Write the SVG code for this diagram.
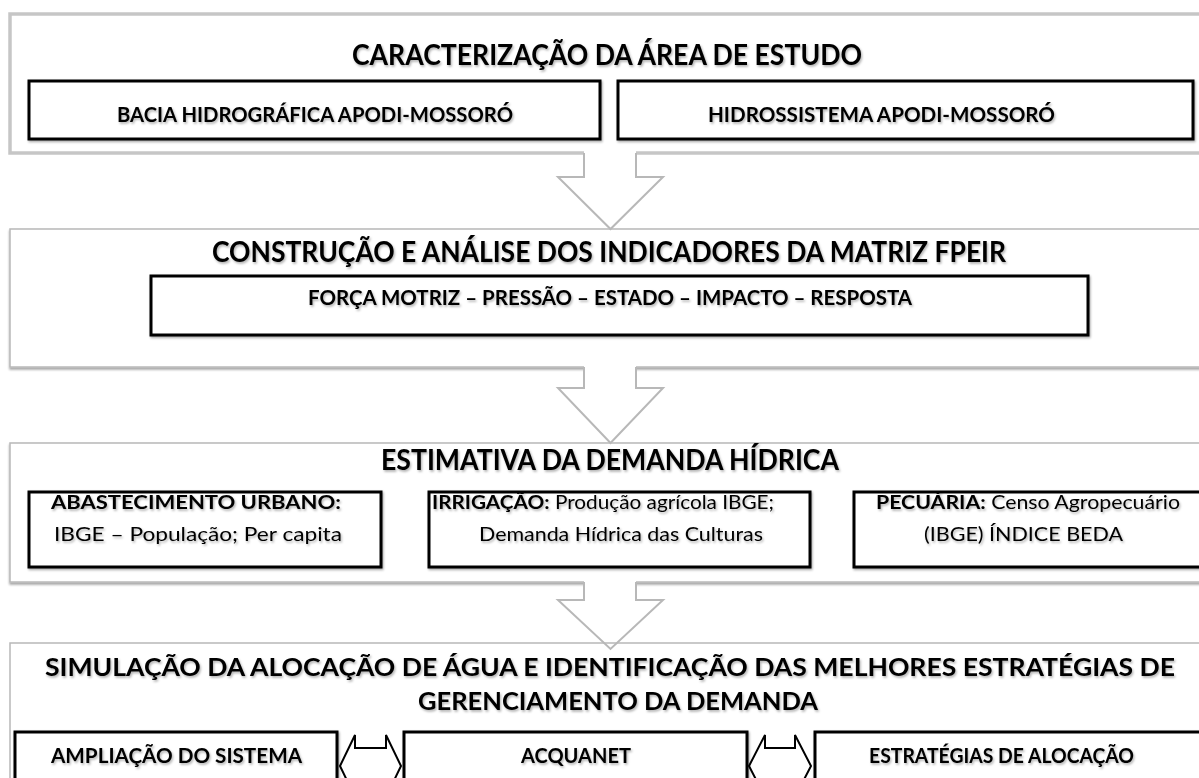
<svg xmlns="http://www.w3.org/2000/svg" width="1199" height="778" viewBox="0 0 1199 778">
<defs>
<filter id="ts" x="-5%" y="-40%" width="110%" height="190%"><feDropShadow dx="1.2" dy="1.8" stdDeviation="1" flood-color="#000" flood-opacity="0.3"/></filter>
<filter id="bs" x="-2%" y="-10%" width="104%" height="125%"><feDropShadow dx="1" dy="1.5" stdDeviation="0.8" flood-color="#000" flood-opacity="0.35"/></filter>
<filter id="ss" x="-2%" y="-10%" width="104%" height="125%"><feDropShadow dx="0" dy="2" stdDeviation="1.2" flood-color="#000" flood-opacity="0.35"/></filter>
</defs>
<style>
.sec{fill:#fff;stroke:#b8b8b8;stroke-width:1.5}
.sec4{fill:none;stroke:#b8b8b8;stroke-width:1.5}
.sec1{fill:#fff;stroke:#c6c6c6;stroke-width:3.5}
.box{fill:#fff;stroke:#000;stroke-width:3}
.t{font-family:Lato,"Open Sans","Liberation Sans",sans-serif;fill:#000}
.h{font-size:28px;font-weight:700}
.h4{font-size:25px;font-weight:700}
.b{font-size:21px;font-weight:700}
.s{font-size:19px}
.bold{font-weight:700}
.ar{fill:#fff;stroke:none}
.arl{fill:none;stroke:#b8b8b8;stroke-width:2;stroke-linejoin:miter}
.da{fill:#fff;stroke:#000;stroke-width:2}
</style>
<rect width="1199" height="778" fill="#fff"/>

<g id="sec1">
<rect class="sec1" x="10" y="14" width="1205" height="139"/>
<text class="t h" x="352" y="65" textLength="510" lengthAdjust="spacingAndGlyphs" filter="url(#ts)">CARACTERIZAÇÃO DA ÁREA DE ESTUDO</text>
</g>
<g id="bacia">
<rect class="box" x="29" y="81" width="571" height="58" filter="url(#bs)"/>
<text class="t b" x="117" y="122" textLength="396" lengthAdjust="spacingAndGlyphs" filter="url(#ts)">BACIA HIDROGRÁFICA APODI-MOSSORÓ</text>
</g>
<g id="hidrossistema">
<rect class="box" x="618" y="81" width="575" height="58" filter="url(#bs)"/>
<text class="t b" x="708" y="122" textLength="347" lengthAdjust="spacingAndGlyphs" filter="url(#ts)">HIDROSSISTEMA APODI-MOSSORÓ</text>
</g>

<g id="sec2">
<rect class="sec" x="10" y="229" width="1205" height="138" filter="url(#ss)"/>
<text class="t h" x="212" y="262" textLength="794" lengthAdjust="spacingAndGlyphs" filter="url(#ts)">CONSTRUÇÃO E ANÁLISE DOS INDICADORES DA MATRIZ FPEIR</text>
</g>
<g id="fpeir">
<rect class="box" x="151" y="276" width="937" height="59" filter="url(#bs)"/>
<text class="t b" x="308" y="305" textLength="604" lengthAdjust="spacingAndGlyphs" filter="url(#ts)">FORÇA MOTRIZ – PRESSÃO – ESTADO – IMPACTO – RESPOSTA</text>
</g>

<g id="sec3">
<rect class="sec" x="10" y="443" width="1205" height="139" filter="url(#ss)"/>
<text class="t h" x="381" y="470" textLength="458" lengthAdjust="spacingAndGlyphs" filter="url(#ts)">ESTIMATIVA DA DEMANDA HÍDRICA</text>
</g>
<g id="abastecimento">
<rect class="box" x="29" y="492" width="352" height="75" filter="url(#bs)"/>
<text class="t s bold" x="51" y="509" textLength="290" lengthAdjust="spacingAndGlyphs" filter="url(#ts)">ABASTECIMENTO URBANO:</text>
<text class="t s" x="54" y="541" textLength="288" lengthAdjust="spacingAndGlyphs" filter="url(#ts)">IBGE – População; Per capita</text>
</g>
<g id="irrigacao">
<rect class="box" x="429" y="492" width="381" height="75" filter="url(#bs)"/>
<text class="t s" x="432" y="509" textLength="342" lengthAdjust="spacingAndGlyphs" filter="url(#ts)"><tspan class="bold">IRRIGAÇÃO:</tspan> Produção agrícola IBGE;</text>
<text class="t s" x="479" y="541" textLength="284" lengthAdjust="spacingAndGlyphs" filter="url(#ts)">Demanda Hídrica das Culturas</text>
</g>
<g id="pecuaria">
<rect class="box" x="854" y="492" width="360" height="75" filter="url(#bs)"/>
<text class="t s" x="876" y="509" textLength="304" lengthAdjust="spacingAndGlyphs" filter="url(#ts)"><tspan class="bold">PECUÁRIA:</tspan> Censo Agropecuário</text>
<text class="t s" x="924" y="541" textLength="199" lengthAdjust="spacingAndGlyphs" filter="url(#ts)">(IBGE) ÍNDICE BEDA</text>
</g>

<g id="connectors">
<path class="ar" d="M584,151 V177 H558 L610.5,229 L663,177 H636 V151 Z"/>
<path class="arl" d="M584,153 V177 H558 L610.5,229 L663,177 H636 V153"/>
<path class="ar" d="M584,366 V388 H558 L610.5,443 L663,388 H636 V366 Z"/>
<path class="arl" d="M584,367 V388 H558 L610.5,443 L663,388 H636 V367"/>
<path class="ar" d="M584,581 V600 H558 L610.5,649 L663,600 H636 V581 Z"/>
<path class="arl" d="M584,582 V600 H558 L610.5,649 L663,600 H636 V582"/>
<path class="da" d="M340,766 L355,735 V748 H386 V735 L401,766 L386,797 V784 H355 V797 Z"/>
<path class="da" d="M749,766 L765,735 V748 H795 V735 L811,766 L795,797 V784 H765 V797 Z"/>
</g>

<g id="sec4">
<rect class="sec4" x="10" y="643" width="1205" height="200"/>
<text class="t h4" x="45" y="676" textLength="1130" lengthAdjust="spacingAndGlyphs" filter="url(#ts)">SIMULAÇÃO DA ALOCAÇÃO DE ÁGUA E IDENTIFICAÇÃO DAS MELHORES ESTRATÉGIAS DE</text>
<text class="t h4" x="418" y="710" textLength="400" lengthAdjust="spacingAndGlyphs" filter="url(#ts)">GERENCIAMENTO DA DEMANDA</text>
</g>
<g id="ampliacao">
<rect class="box" x="15" y="732" width="322" height="80" filter="url(#bs)"/>
<text class="t b" x="51" y="763" textLength="251" lengthAdjust="spacingAndGlyphs" filter="url(#ts)">AMPLIAÇÃO DO SISTEMA</text>
</g>
<g id="acquanet">
<rect class="box" x="404" y="732" width="343" height="80" filter="url(#bs)"/>
<text class="t b" x="521" y="763" textLength="110" lengthAdjust="spacingAndGlyphs" filter="url(#ts)">ACQUANET</text>
</g>
<g id="estrategias">
<rect class="box" x="815" y="732" width="400" height="80" filter="url(#bs)"/>
<text class="t b" x="869" y="763" textLength="265" lengthAdjust="spacingAndGlyphs" filter="url(#ts)">ESTRATÉGIAS DE ALOCAÇÃO</text>
</g>
</svg>
